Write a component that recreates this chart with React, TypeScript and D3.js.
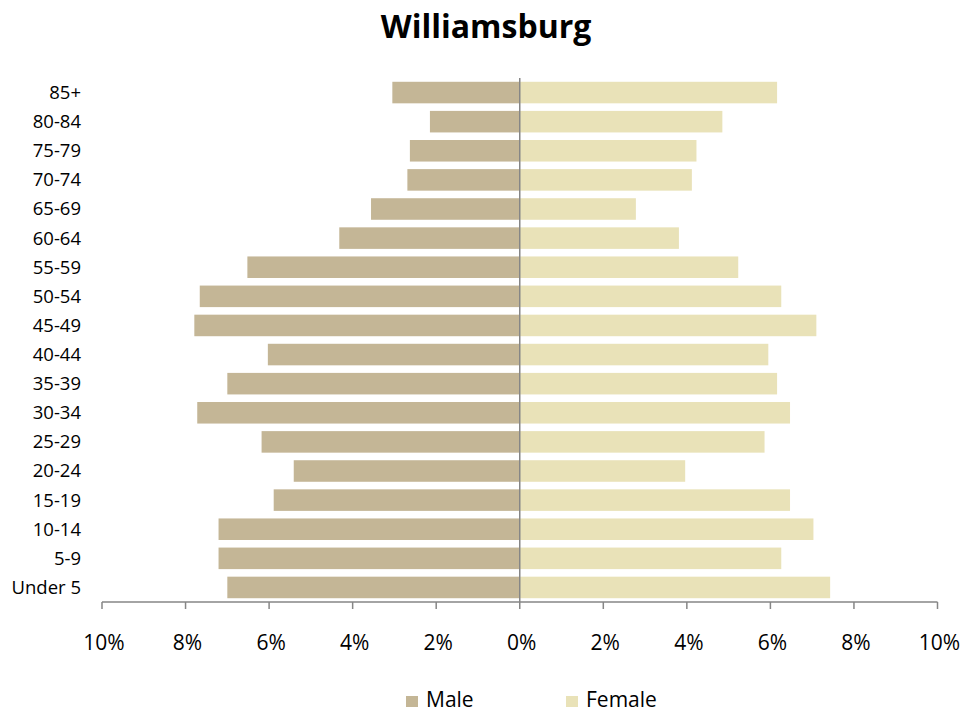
import * as d3 from 'd3';

const WIDTH = 979;
const HEIGHT = 713;
const PLOT = { left: 102, right: 937.5, top: 78, bottom: 602 };

const categories = [
  '85+', '80-84', '75-79', '70-74', '65-69', '60-64', '55-59', '50-54', '45-49',
  '40-44', '35-39', '30-34', '25-29', '20-24', '15-19', '10-14', '5-9', 'Under 5',
];
// percent of population
const male = [3.05, 2.15, 2.63, 2.69, 3.56, 4.32, 6.52, 7.66, 7.79, 6.03, 7.0, 7.72, 6.18, 5.41, 5.89, 7.21, 7.21, 7.0];
const female = [6.16, 4.85, 4.23, 4.12, 2.78, 3.81, 5.23, 6.26, 7.1, 5.95, 6.16, 6.47, 5.86, 3.96, 6.47, 7.03, 6.26, 7.43];
const xTicks = [-10, -8, -6, -4, -2, 0, 2, 4, 6, 8, 10];
const seriesNames = ['Male', 'Female'];

const MALE_COLOR = '#c4b696';
const FEMALE_COLOR = '#e9e2b8';
const AXIS_COLOR = '#868686';
const FONT = '"Open Sans", "Noto Sans", sans-serif';

const App = () => {
  const xScale = d3.scaleLinear().domain([-10, 10]).range([PLOT.left, PLOT.right]);
  const yScale = d3
    .scaleBand<string>()
    .domain(categories)
    .range([PLOT.top, PLOT.bottom])
    .paddingInner(0.26)
    .paddingOuter(0.13);
  const x0 = xScale(0);

  const maleBars = categories.map((c, i) => (
    <rect
      key={'m' + c}
      x={xScale(-male[i])}
      y={yScale(c)}
      width={x0 - xScale(-male[i])}
      height={yScale.bandwidth()}
      fill={MALE_COLOR}
    />
  ));
  const femaleBars = categories.map((c, i) => (
    <rect
      key={'f' + c}
      x={x0}
      y={yScale(c)}
      width={xScale(female[i]) - x0}
      height={yScale.bandwidth()}
      fill={FEMALE_COLOR}
    />
  ));

  const legendX = [406, 566];

  return (
    <div style={{ position: 'absolute', left: 0, top: 0 }}>
      <svg width={WIDTH} height={HEIGHT} style={{ display: 'block', background: '#fff' }}>
        <text
          x={486}
          y={38}
          textAnchor="middle"
          fontFamily={FONT}
          fontWeight="bold"
          fontSize={32}
          fill="#000"
        >
          Williamsburg
        </text>

        {maleBars}
        {femaleBars}

        {/* category labels */}
        {categories.map((c) => (
          <text
            key={'l' + c}
            x={81}
            y={(yScale(c) ?? 0) + yScale.bandwidth() / 2}
            dy="0.35em"
            textAnchor="end"
            fontFamily={FONT}
            fontSize={18.5}
            fill="#000"
          >
            {c}
          </text>
        ))}

        {/* center line */}
        <line x1={x0} x2={x0} y1={PLOT.top} y2={PLOT.bottom} stroke={AXIS_COLOR} strokeWidth={1.5} />

        {/* x axis */}
        <line x1={PLOT.left} x2={PLOT.right} y1={PLOT.bottom} y2={PLOT.bottom} stroke={AXIS_COLOR} strokeWidth={1.5} />
        {xTicks.map((t) => (
          <g key={'t' + t} transform={`translate(${xScale(t)},${PLOT.bottom})`}>
            <line y1={0} y2={7} stroke={AXIS_COLOR} strokeWidth={1.5} />
            <text
              x={2}
              y={48}
              textAnchor="middle"
              fontFamily={FONT}
              fontSize={21}
              fill="#000"
            >
              {Math.abs(t) + '%'}
            </text>
          </g>
        ))}

        {/* legend */}
        {seriesNames.map((name, i) => (
          <g key={name} transform={`translate(${legendX[i]},696)`}>
            <rect width={12} height={11} fill={i === 0 ? MALE_COLOR : FEMALE_COLOR} />
            <text x={20} y={11} fontFamily={FONT} fontSize={21} fill="#000">
              {name}
            </text>
          </g>
        ))}
      </svg>
    </div>
  );
};

export default App;
